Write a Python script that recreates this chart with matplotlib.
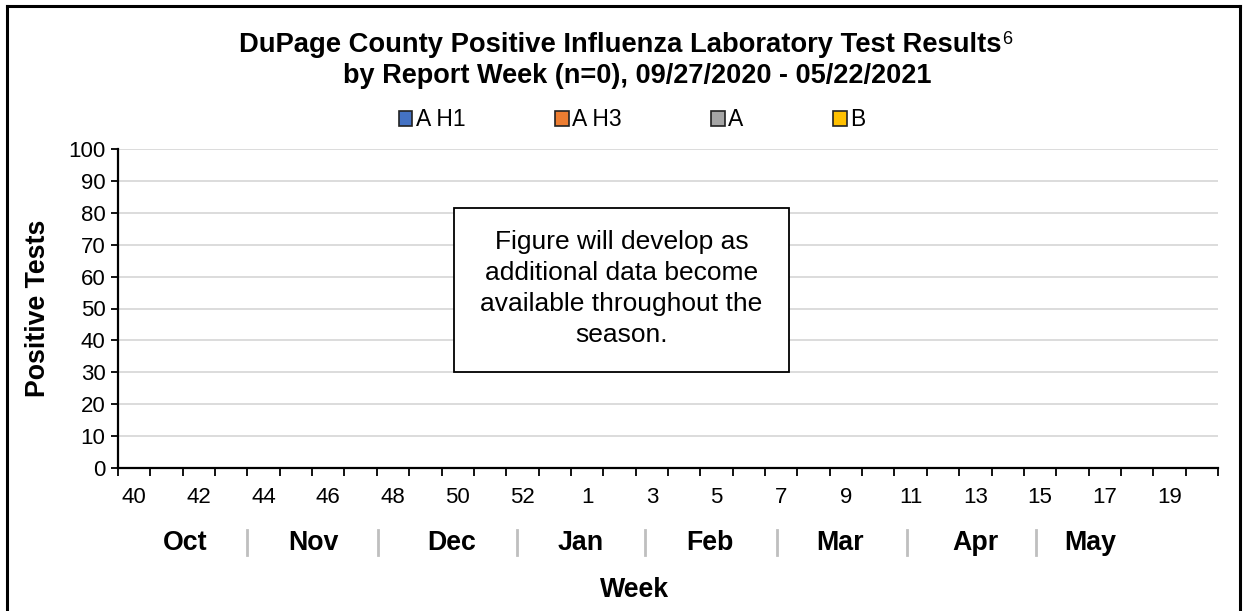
import matplotlib
matplotlib.use("Agg")
import matplotlib.pyplot as plt
import numpy as np
from matplotlib.lines import Line2D
from matplotlib.patches import Rectangle

plt.rcParams['font.family'] = ['Liberation Sans', 'DejaVu Sans']

# MMWR report weeks of the 2020-21 season (2020 had 53 weeks)
weeks = list(range(40, 54)) + list(range(1, 21))
series = ["A H1", "A H3", "A", "B"]
colors = ["#4472c4", "#ed7d31", "#a5a5a5", "#ffc000"]
# no positive tests reported yet
counts = {s: [0] * len(weeks) for s in series}

months = ["Oct", "Nov", "Dec", "Jan", "Feb", "Mar", "Apr", "May"]
month_pos = [1.57, 5.53, 9.82, 13.81, 17.8, 21.82, 26.0, 29.55]
month_sep = [3.49, 7.54, 11.83, 15.79, 19.87, 23.89, 27.88]

note = "Figure will develop as\nadditional data become\navailable throughout the\nseason."

W, H = 1244, 611
BOLD = 19.3
fig = plt.figure(figsize=(W / 100, H / 100), dpi=100)
ax = fig.add_axes([118 / W, 1 - 468 / H, 1100 / W, 319 / H])

x = np.arange(len(weeks))
bottom = np.zeros(len(weeks))
for s, c in zip(series, colors):
    vals = np.array(counts[s])
    ax.bar(x, vals, bottom=bottom, width=0.6, color=c, edgecolor="#222222",
           linewidth=1.2, label=s)
    bottom += vals

ax.set_xlim(-0.5, len(weeks) - 0.5)
ax.set_ylim(0, 100)
ax.set_yticks(range(0, 101, 10))
ax.tick_params(axis="y", labelsize=16, length=5, width=1.3, pad=4)
ax.yaxis.grid(True, color="#d9d9d9", linewidth=1.3)
ax.set_axisbelow(True)

# tick marks at category boundaries, labels at every other category centre
ax.set_xticks(np.arange(-0.5, len(weeks), 1.0))
ax.set_xticklabels([])
ax.tick_params(axis="x", length=6, width=1.3)
ax.set_xticks(x[::2], minor=True)
ax.set_xticklabels([str(w) for w in weeks[::2]], minor=True)
ax.tick_params(axis="x", which="minor", length=0, labelsize=16, pad=14)

for sp in ["top", "right"]:
    ax.spines[sp].set_visible(False)
for sp in ["left", "bottom"]:
    ax.spines[sp].set_linewidth(1.6)

trans = ax.get_xaxis_transform()
for m, p in zip(months, month_pos):
    ax.text(p, -0.235, m, transform=trans, ha="center", va="center",
            fontsize=BOLD, fontweight="bold")
for p in month_sep:
    ax.plot([p, p], [-0.194, -0.273], transform=trans, color="#bfbfbf",
            linewidth=2, clip_on=False)

ax.text(0.47, -0.382, "Week", transform=ax.transAxes, ha="center", va="center",
        fontsize=BOLD, fontweight="bold")
fig.text(38 / W, 1 - 308 / H, "Positive Tests", rotation=90, ha="center",
         va="center", fontsize=BOLD, fontweight="bold")

# note box
ax.add_patch(Rectangle((0.3055, 0.301), 0.3045, 0.514, transform=ax.transAxes,
                       facecolor="white", edgecolor="black", linewidth=1.3,
                       zorder=5))
ax.text(0.4577, 0.562, note, transform=ax.transAxes, ha="center", va="center",
        fontsize=19, linespacing=1.36, zorder=6)

# title with superscript
t1 = fig.text(620 / W, 1 - 45 / H,
              "DuPage County Positive Influenza Laboratory Test Results",
              ha="center", va="center", fontsize=19.7, fontweight="bold")
fig.text(637 / W, 1 - 76 / H, "by Report Week (n=0), 09/27/2020 - 05/22/2021",
         ha="center", va="center", fontsize=19.5, fontweight="bold")
r = fig.canvas.get_renderer()
bb = t1.get_window_extent(renderer=r)
fig.text(bb.x1 / W + 0.001, 1 - 40 / H, "6", ha="left", va="center", fontsize=13)

fig.legend(loc="center", bbox_to_anchor=(632 / W, 1 - 120 / H), ncol=4,
           frameon=False, fontsize=16.5, handlelength=0.6, handleheight=0.6,
           handletextpad=0.15, columnspacing=3.9)

# outer chart border (bottom edge falls outside the picture)
fig.add_artist(Line2D([7 / W, 7 / W], [0, 1 - 6 / H], color="black", linewidth=2.2))
fig.add_artist(Line2D([7 / W, 1240 / W], [1 - 6 / H, 1 - 6 / H], color="black", linewidth=2.2))
fig.add_artist(Line2D([1240 / W, 1240 / W], [0, 1 - 6 / H], color="black", linewidth=2.2))

fig.savefig("out.png", dpi=100, facecolor="white")
